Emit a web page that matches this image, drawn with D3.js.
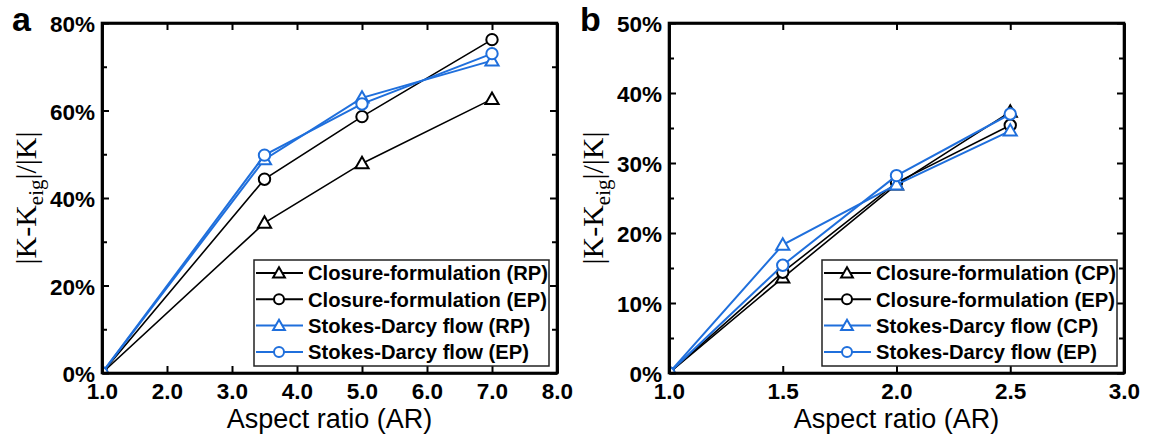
<!DOCTYPE html>
<html>
  <head>
    <meta charset="utf-8">
    <style type="text/css">
      body { margin: 0; background: #fff; }
      svg { display: block; }
      .tick text { font-family: "Liberation Sans", Arial, sans-serif; font-weight: bold; font-size: 22.5px; fill: #000; }
      .axis path, .axis line { stroke: #000; }
    </style>
    <title>Aspect ratio error</title>
  </head>
  <body>
    <script src="https://cdn.jsdelivr.net/npm/d3@7"></script>
    <script>

/*========== Data ==========*/
// panel a
const arA = [1.0, 3.5, 5.0, 7.0];
const closureRP = [0, 34.3, 47.9, 62.6];
const closureEPa = [0, 44.3, 58.6, 76.2];
const stokesRP = [0, 48.8, 62.9, 71.4];
const stokesEPa = [0, 49.8, 61.5, 73.0];
const xTicksA = [1, 2, 3, 4, 5, 6, 7, 8];
const yTicksA = [0, 20, 40, 60, 80];
const yMinorA = [10, 30, 50, 70];

// panel b
const arB = [1.0, 1.5, 2.0, 2.5];
const closureCP = [0, 13.6, 26.9, 37.3];
const closureEPb = [0, 14.4, 27.2, 35.4];
const stokesCP = [0, 18.3, 26.9, 34.6];
const stokesEPb = [0, 15.4, 28.2, 37.0];
const xTicksB = [1.0, 1.5, 2.0, 2.5, 3.0];
const yTicksB = [0, 10, 20, 30, 40, 50];
const yMinorB = [5, 15, 25, 35, 45];

const namesA = ['Closure-formulation (RP)', 'Closure-formulation (EP)', 'Stokes-Darcy flow (RP)', 'Stokes-Darcy flow (EP)'];
const namesB = ['Closure-formulation (CP)', 'Closure-formulation (EP)', 'Stokes-Darcy flow (CP)', 'Stokes-Darcy flow (EP)'];

const black = '#000000';
const blue = '#1f6fdc';

/*========== Zones ==========*/
const W = 1153, H = 441;
const svg = d3.select('body').append('svg')
    .attr('width', W)
    .attr('height', H);

const triangle = d3.symbol().type(d3.symbolTriangle);

function drawPanel(opt) {
  const g = svg.append('g')
      .attr('transform', `translate(${opt.left},${opt.top})`);
  const w = opt.width, h = opt.height;

  const x = d3.scaleLinear().domain(opt.xDomain).range([0, w]);
  const y = d3.scaleLinear().domain(opt.yDomain).range([h, 0]);

  // clip (a little wider so the first marker still shows)
  g.append('clipPath').attr('id', 'clip' + opt.id)
    .append('rect').attr('x', 0).attr('y', -10).attr('width', w).attr('height', h + 10);

  const plot = g.append('g').attr('clip-path', `url(#clip${opt.id})`);

  // series
  opt.series.forEach(function (s) {
    const pts = opt.xs.map((d, i) => [d, s.values[i]]);
    plot.append('path')
        .datum(pts)
        .attr('fill', 'none')
        .attr('stroke', s.color)
        .attr('stroke-width', s.color == black ? 1.6 : 2)
        .attr('d', d3.line().x(d => x(d[0])).y(d => y(d[1])));
    const m = plot.selectAll(null).data(pts).enter();
    if (s.shape == 'tri') {
      m.append('path')
          .attr('d', triangle.size(75))
          .attr('transform', d => `translate(${x(d[0])},${y(d[1]) + 1})`)
          .attr('fill', '#fff')
          .attr('stroke', s.color)
          .attr('stroke-width', 2);
    } else {
      m.append('circle')
          .attr('cx', d => x(d[0]))
          .attr('cy', d => y(d[1]))
          .attr('r', 5.7)
          .attr('fill', '#fff')
          .attr('stroke', s.color)
          .attr('stroke-width', 2);
    }
  });

  // axes
  const fmtX = d3.format('.1f');
  const bottom = g.append('g').attr('class', 'axis')
      .attr('transform', `translate(0,${h})`)
      .call(d3.axisBottom(x).tickValues(opt.xTicks).tickFormat(fmtX).tickSizeInner(-7).tickSizeOuter(0).tickPadding(10));
  const left = g.append('g').attr('class', 'axis')
      .call(d3.axisLeft(y).tickValues(opt.yTicks).tickFormat(d => d + '%').tickSizeInner(-7).tickSizeOuter(0).tickPadding(7));
  g.append('g').attr('class', 'axis')
      .call(d3.axisLeft(y).tickValues(opt.yMinor).tickFormat('').tickSizeInner(-5).tickSizeOuter(0));
  g.append('g').attr('class', 'axis')
      .call(d3.axisTop(x).tickValues(opt.xTicks).tickFormat('').tickSizeInner(-7).tickSizeOuter(0));
  g.append('g').attr('class', 'axis')
      .attr('transform', `translate(${w},0)`)
      .call(d3.axisRight(y).tickValues(opt.yTicks).tickFormat('').tickSizeInner(-7).tickSizeOuter(0));
  g.append('g').attr('class', 'axis')
      .attr('transform', `translate(${w},0)`)
      .call(d3.axisRight(y).tickValues(opt.yMinor).tickFormat('').tickSizeInner(-5).tickSizeOuter(0));
  g.selectAll('.axis path').attr('stroke-width', 2.6);
  g.selectAll('.axis line').attr('stroke-width', 2);
  bottom.selectAll('text').attr('dy', '0.71em');
  left.selectAll('text').attr('dy', '0.38em');

  // frame
  g.append('rect')
      .attr('width', w).attr('height', h)
      .attr('fill', 'none')
      .attr('stroke', '#000')
      .attr('stroke-width', 2.6);

  // x title
  g.append('text')
      .attr('x', w / 2)
      .attr('y', h + 55)
      .style('text-anchor', 'middle')
      .style('font-family', '"Liberation Sans", Arial, sans-serif')
      .style('font-size', '27px')
    .text('Aspect ratio (AR)');

  // y title
  const yt = g.append('text')
      .attr('transform', `translate(${opt.yTitleX},${h / 2}) rotate(-90)`)
      .style('text-anchor', 'middle')
      .style('font-family', '"Liberation Serif", "Times New Roman", serif')
      .style('font-size', '30px');
  yt.append('tspan').text('|K-K');
  yt.append('tspan').attr('dy', 7).style('font-size', '21px').text('eig');
  yt.append('tspan').attr('dy', -7).text('|/|K|');

  // panel letter
  svg.append('text')
      .attr('x', opt.letterX)
      .attr('y', 31)
      .style('font-family', '"Liberation Sans", Arial, sans-serif')
      .style('font-weight', 'bold')
      .style('font-size', '34px')
    .text(opt.letter);

  // legend
  const lg = g.append('g').attr('transform', `translate(${opt.legX},${opt.legY})`);
  lg.append('rect')
      .attr('width', 295).attr('height', 106)
      .attr('fill', '#fff')
      .attr('stroke', '#222')
      .attr('stroke-width', 1.5);
  opt.series.forEach(function (s, i) {
    const row = lg.append('g').attr('transform', `translate(0,${13 + i * 26.3})`);
    row.append('line')
        .attr('x1', 2).attr('x2', 49)
        .attr('stroke', s.color).attr('stroke-width', 2);
    if (s.shape == 'tri') {
      row.append('path')
          .attr('d', triangle.size(60))
          .attr('transform', 'translate(25,1)')
          .attr('fill', '#fff').attr('stroke', s.color).attr('stroke-width', 2);
    } else {
      row.append('circle')
          .attr('cx', 25).attr('r', 5)
          .attr('fill', '#fff').attr('stroke', s.color).attr('stroke-width', 2);
    }
    row.append('text')
        .attr('x', 54)
        .attr('dy', '0.36em')
        .style('font-family', '"Liberation Sans", Arial, sans-serif')
        .style('font-weight', 'bold')
        .style('font-size', '20.2px')
      .text(s.name);
  });
}

drawPanel({
  id: 'a', left: 102, top: 23, width: 455, height: 350,
  xDomain: [1, 8], yDomain: [0, 80],
  xs: arA, xTicks: xTicksA, yTicks: yTicksA, yMinor: yMinorA,
  series: [
    {name: namesA[0], values: closureRP, color: black, shape: 'tri'},
    {name: namesA[1], values: closureEPa, color: black, shape: 'circ'},
    {name: namesA[2], values: stokesRP, color: blue, shape: 'tri'},
    {name: namesA[3], values: stokesEPa, color: blue, shape: 'circ'}
  ],
  yTitleX: -66, letter: 'a', letterX: 12, legX: 152, legY: 237
});

drawPanel({
  id: 'b', left: 669, top: 23, width: 455, height: 350,
  xDomain: [1, 3], yDomain: [0, 50],
  xs: arB, xTicks: xTicksB, yTicks: yTicksB, yMinor: yMinorB,
  series: [
    {name: namesB[0], values: closureCP, color: black, shape: 'tri'},
    {name: namesB[1], values: closureEPb, color: black, shape: 'circ'},
    {name: namesB[2], values: stokesCP, color: blue, shape: 'tri'},
    {name: namesB[3], values: stokesEPb, color: blue, shape: 'circ'}
  ],
  yTitleX: -66, letter: 'b', letterX: 580, legX: 153, legY: 237
});

    </script>
  </body>
</html>
